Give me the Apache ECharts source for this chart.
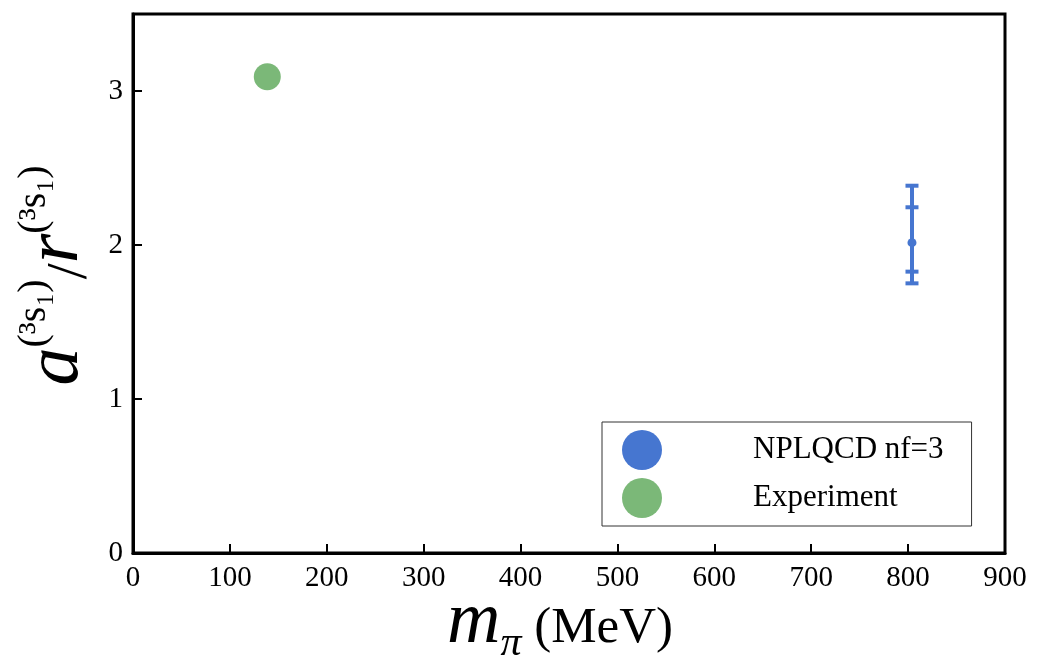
<!DOCTYPE html>
<html><head><meta charset="utf-8">
<script src="https://cdn.jsdelivr.net/npm/echarts@6/dist/echarts.min.js"></script>
<style>html,body{margin:0;padding:0;background:#fff}#c{width:1038px;height:660px}</style>
</head><body><div id="c"></div>
<script>
const seriesNames = ['NPLQCD nf=3', 'Experiment'];
const expX = [138.6];
const expY = [3.093];
const nplX = [804];
const nplY = [2.015];
const nplInnerLo = [1.827];
const nplInnerHi = [2.245];
const nplOuterLo = [1.751];
const nplOuterHi = [2.385];
const xTicks = [0, 100, 200, 300, 400, 500, 600, 700, 800, 900];
const yTicks = [0, 1, 2, 3];

const BLUE = '#4676d0';
const GREEN = '#7bb878';
const SERIF = '"Liberation Serif", "DejaVu Serif", serif';

const chart = echarts.init(document.getElementById('c'));
const errData = nplX.map((x, i) => [x, nplY[i], nplInnerLo[i], nplInnerHi[i], nplOuterLo[i], nplOuterHi[i]]);

chart.setOption({
  animation: false,
  backgroundColor: '#fff',
  grid: { left: 133, right: 33, top: 14, bottom: 107, containLabel: false, outerBoundsMode: 'none',
    show: true, borderColor: '#000', borderWidth: 3, backgroundColor: 'transparent' },
  xAxis: {
    type: 'value', min: xTicks[0], max: xTicks[xTicks.length - 1], interval: 100,
    axisLine: { show: true, onZero: false, lineStyle: { color: '#000', width: 3 } },
    axisTick: { show: true, inside: true, length: 9, lineStyle: { color: '#000', width: 2 } },
    splitLine: { show: false },
    axisLabel: { color: '#000', fontFamily: SERIF, fontSize: 29, margin: 11 },
    name: '{m|m}{sub|π}{u| (MeV)}',
    nameLocation: 'middle', nameGap: 28, nameMoveOverlap: false,
    nameTextStyle: {
      padding: [0, 18, 0, 0],
      rich: {
        m: { fontFamily: SERIF, fontStyle: 'italic', fontSize: 74, color: '#000', lineHeight: 84 },
        sub: { fontFamily: SERIF, fontStyle: 'italic', fontSize: 42, color: '#000', verticalAlign: 'bottom' },
        u: { fontFamily: SERIF, fontSize: 51, color: '#000', padding: [12, 0, 0, 0] }
      }
    }
  },
  yAxis: {
    type: 'value', min: yTicks[0], max: 3.5, interval: 1,
    axisLine: { show: true, onZero: false, lineStyle: { color: '#000', width: 3 } },
    axisTick: { show: true, inside: true, length: 9, lineStyle: { color: '#000', width: 2 } },
    splitLine: { show: false },
    axisLabel: { color: '#000', fontFamily: SERIF, fontSize: 29, margin: 10, showMaxLabel: false,
      formatter: v => (yTicks.indexOf(v) >= 0 ? String(v) : '') },
    name: '{a|a}{sup|(³s₁)}{sl|/}{a|r}{sup|(³s₁)}',
    nameLocation: 'middle', nameGap: 33, nameRotate: 90, nameMoveOverlap: false,
    nameTextStyle: {
      padding: [0, 0, 0, 16],
      rich: {
        a: { fontFamily: SERIF, fontStyle: 'italic', fontSize: 76, color: '#000' },
        sup: { fontFamily: SERIF, fontSize: 40, color: '#000', padding: [0, 0, 46, 0] },
        sl: { fontFamily: SERIF, fontSize: 58, color: '#000', padding: [28, 0, 0, 0] }
      }
    }
  },
  legend: {
    orient: 'vertical', left: 602, top: 422,
    itemWidth: 40, itemHeight: 40, itemGap: 8,
    borderColor: '#333', borderWidth: 1, padding: [8, 28, 8, 20],
    textStyle: { fontFamily: SERIF, fontSize: 31, color: '#000', padding: [0, 0, 0, 86] },
    data: [
      { name: seriesNames[0], icon: 'circle', itemStyle: { color: BLUE } },
      { name: seriesNames[1], icon: 'circle', itemStyle: { color: GREEN } }
    ]
  },
  series: [
    {
      name: seriesNames[0], type: 'custom', data: errData, z: 3,
      itemStyle: { color: BLUE },
      renderItem: function (params, api) {
        const x = api.value(0);
        const c = api.coord([x, api.value(1)]);
        const iLo = api.coord([x, api.value(2)]);
        const iHi = api.coord([x, api.value(3)]);
        const oLo = api.coord([x, api.value(4)]);
        const oHi = api.coord([x, api.value(5)]);
        const hw = 6.5;
        const st = { stroke: BLUE, lineWidth: 4 };
        const cap = p => ({ type: 'line', shape: { x1: p[0] - hw, y1: p[1], x2: p[0] + hw, y2: p[1] }, style: st });
        return {
          type: 'group',
          children: [
            { type: 'line', shape: { x1: oHi[0], y1: oHi[1], x2: oLo[0], y2: oLo[1] }, style: st },
            cap(oHi), cap(oLo), cap(iHi), cap(iLo),
            { type: 'circle', shape: { cx: c[0], cy: c[1], r: 4.5 }, style: { fill: BLUE } }
          ]
        };
      }
    },
    {
      name: seriesNames[1], type: 'scatter', symbol: 'circle', symbolSize: 27,
      itemStyle: { color: GREEN, opacity: 1 },
      data: expX.map((x, i) => [x, expY[i]])
    }
  ]
});
</script></body></html>
